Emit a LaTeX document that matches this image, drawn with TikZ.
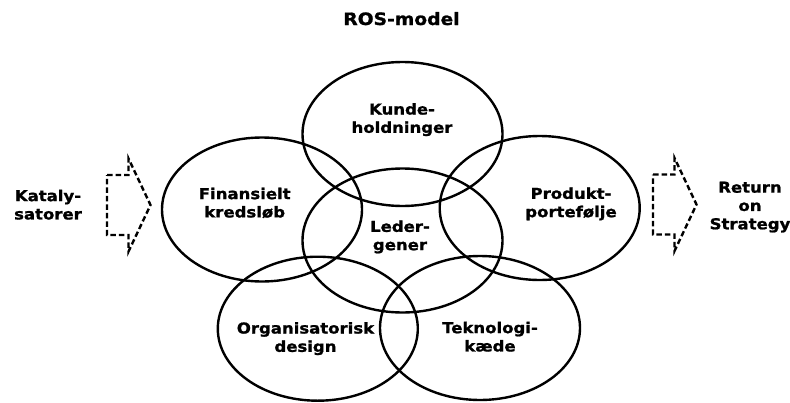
\documentclass[tikz,border=0pt]{standalone}
\usepackage{fontspec}
\usetikzlibrary{shapes.geometric}
\newfontfamily\rosfont{DejaVu Sans}[FakeStretch=1.1,BoldFeatures={FakeBold=1.2}]
\begin{document}
\begin{tikzpicture}[x=1pt,y=-1pt,
  ring/.style={draw=black,line width=2.4pt,ellipse,inner sep=0pt,
    minimum width=200pt,minimum height=144pt},
  label/.style={align=center,inner sep=0pt,
    font=\rosfont\bfseries\fontsize{15}{18.3}\selectfont},
  flow/.style={draw=black,line width=2.4pt,dash pattern=on 5.5pt off 3pt,line join=miter},
  pics/blockarrow/.style={code={
    \draw[flow] (0,0) -- (21.5,0) -- (21.5,-16.5) -- (43.5,30) -- (21.5,76.5)
      -- (21.5,60) -- (0,60) -- cycle;}}]
\useasboundingbox (0,0) rectangle (790,402);

% title
\node[label,anchor=base,font=\rosfont\bfseries\fontsize{17}{20}\selectfont]
  (title) at (401.5,25) {ROS-model};

% the six overlapping ellipses
\node[ring] (kunde)   at (402.5,134)   {};
\node[ring] (finans)  at (262,209.5)   {};
\node[ring] (leder)   at (402.5,240.5) {};
\node[ring] (produkt) at (539.7,208)   {};
\node[ring] (organ)   at (317.8,328.7) {};
\node[ring] (tekno)   at (480,328)     {};

% labels inside the ellipses
\node[label] (kundeT)   at (402,119.6)   {Kunde-\\holdninger};
\node[label] (finansT)  at (244.7,202.9) {Finansielt\\kredsløb};
\node[label] (lederT)   at (400,236.9)   {Leder-\\gener};
\node[label] (produktT) at (571,203.9)   {Produkt-\\portefølje};
\node[label] (organT)   at (305.5,338.6) {Organisatorisk\\design};
\node[label] (teknoT)   at (490,336.7)   {Teknologi-\\kæde};

% input and output
\node[label] (katT)   at (48,204.7)  {Kataly-\\satorer};
\node[label] (rosT)   at (750,207.1) {Return\\on\\Strategy};

% dashed block arrows
\pic at (107,175) {blockarrow};
\pic at (653,174.5) {blockarrow};
\end{tikzpicture}
\end{document}
